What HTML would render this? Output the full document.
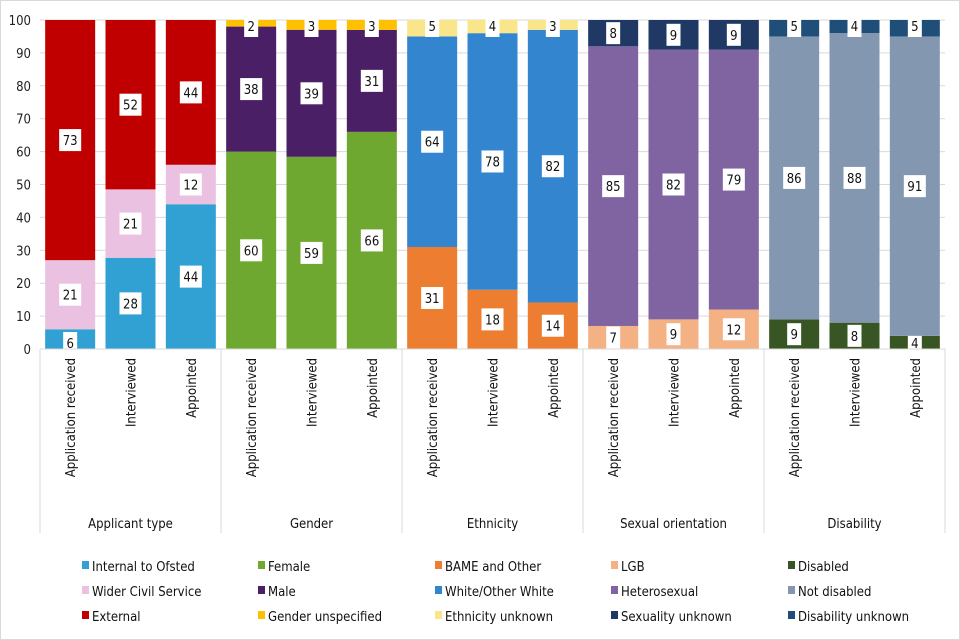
<!DOCTYPE html>
<html><head><meta charset="utf-8"><style>
body{margin:0;background:#fff}
svg{display:block;font-family:"DejaVu Sans Condensed","Liberation Sans",sans-serif}
</style></head><body>
<svg id="c" width="960" height="640">
<rect x="0.5" y="0.5" width="959" height="639" fill="#fff" stroke="#d9d9d9"/>
<g id="grid"></g><g id="bars"></g><g id="axis"></g><g id="legend"></g>
</svg>
<script>
const groups=["Applicant type","Gender","Ethnicity","Sexual orientation","Disability"];
const stages=["Application received","Interviewed","Appointed"];
const seriesNames=[["Internal to Ofsted","Wider Civil Service","External"],["Female","Male","Gender unspecified"],["BAME and Other","White/Other White","Ethnicity unknown"],["LGB","Heterosexual","Sexuality unknown"],["Disabled","Not disabled","Disability unknown"]];
const colors=[["#31A1D3","#EBC1E2","#C00000"],["#6FA830","#4A1F66","#FFC000"],["#ED7D31","#3485D0","#F9E68A"],["#F4B183","#8064A2","#1F3864"],["#375623","#8497B0","#1F4E79"]];
const values=[
[[6,21,73],[28,21,52],[44,12,44]],
[[60,38,2],[59,39,3],[66,31,3]],
[[31,64,5],[18,78,4],[14,82,3]],
[[7,85,8],[9,82,9],[12,79,9]],
[[9,86,5],[8,88,4],[4,91,5]]];
const yTicks=[0,10,20,30,40,50,60,70,80,90,100];
const NS="http://www.w3.org/2000/svg";
const X0=40,X1=945,Y0=349,Y1=20;
const gw=(X1-X0)/groups.length, sw=gw/3, bw=50;
const y=v=>Y0-(Y1-Y0)*-v/100;
function mk(p,t,a){const e=document.createElementNS(NS,t);for(const k in a)e.setAttribute(k,a[k]);p.appendChild(e);return e;}
const grid=document.getElementById('grid'),bars=document.getElementById('bars'),axis=document.getElementById('axis'),leg=document.getElementById('legend');
yTicks.forEach(t=>{
 const l=mk(grid,'line',{x1:X0,x2:X1,y1:y(t),y2:y(t),stroke:'#d9d9d9'});
 
 
 const tx=mk(axis,'text',{x:31,y:y(t)+5,'text-anchor':'end','font-size':13,fill:'#222'});
 tx.textContent=t;
 
 
});
values.forEach((g,gi)=>{
 g.forEach((st,si)=>{
  const tot=st.reduce((a,b)=>a+b,0);
  let acc=0;
  const bx=X0+gi*gw+si*sw+(sw-bw)/2;
  st.forEach((v,k)=>{
   const v0=acc/tot*100, v1=(acc+v)/tot*100; acc+=v;
   const r=mk(bars,'rect',{x:bx,y:y(v1),width:bw,height:y(v0)-y(v1),fill:colors[gi][k]});
   
   
   let cy=(y(v0)+y(v1))/2;
   if(k===2&&v<7)cy=y(100)+6;
   if(k===0&&v<7)cy=y(0)-6;
   const s=String(v), w=s.length*8+6;
   const lb=mk(bars,'rect',{x:bx+bw/2-w/2,y:cy-11,width:w,height:22,fill:'#fff'});
   
   
   const t=mk(bars,'text',{x:bx+bw/2,y:cy+5,'text-anchor':'middle','font-size':13,fill:'#111'});
   t.textContent=s;
   
   
  });
  const lx=bx+bw/2+5;
  const tt=mk(axis,'text',{transform:`translate(${lx},358) rotate(-90)`,'text-anchor':'end','font-size':13,fill:'#111'});
  tt.textContent=stages[si];
  
  
 });
 const gl=mk(axis,'text',{x:X0+gi*gw+gw/2,y:528,'text-anchor':'middle','font-size':13,fill:'#111'});
 gl.textContent=groups[gi];
 
 
});
for(let i=0;i<=groups.length;i++){
 const l=mk(axis,'line',{x1:X0+i*gw,x2:X0+i*gw,y1:Y0,y2:533,stroke:'#d9d9d9'});
 
 
}
const xl=mk(axis,'line',{x1:X0,x2:X1,y1:Y0,y2:Y0,stroke:'#d9d9d9'});


const legX=[82,258,435,611,788], legY=[567,592,617];
seriesNames.forEach((g,gi)=>g.forEach((n,k)=>{
 const r=mk(leg,'rect',{x:legX[gi],y:legY[k]-6,width:7,height:8,fill:colors[gi][k]});
 
 
 const t=mk(leg,'text',{x:legX[gi]+10,y:legY[k]+4,'font-size':13,fill:'#111'});
 t.textContent=n;
 
 
}));
</script>
</body></html>
